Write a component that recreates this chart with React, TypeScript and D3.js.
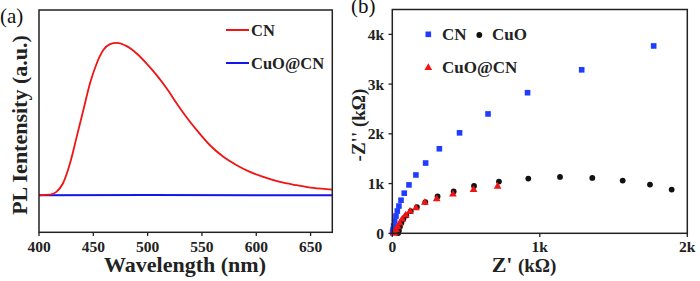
import React from "react";
import * as d3 from "d3";

// Panel (a): PL spectra
const plWavelength = [400, 410, 416, 422, 428.5, 434.7, 440.8, 446.9, 453.1, 459.2, 465.4, 471.5, 480.7, 489.9, 499.1, 508.3, 517.6, 526.8, 536, 545.2, 557.4, 569.7, 582, 594.2, 606.5, 621.8, 637.2, 652.5, 670];
const plCN = [0, 0.004, 0.022, 0.077, 0.208, 0.383, 0.558, 0.733, 0.864, 0.952, 0.991, 1.0, 0.978, 0.93, 0.864, 0.788, 0.7, 0.602, 0.51, 0.427, 0.328, 0.252, 0.197, 0.153, 0.12, 0.087, 0.066, 0.048, 0.037];
const plCuOCNWavelength = [400, 500, 600, 670];
const plCuOCN = [0, 0.001, 0, 0];
const plTicks = [400, 450, 500, 550, 600, 650];

// Panel (b): Nyquist plots (Ω)
const cnZre = [2, 5, 9, 16, 25, 34, 45, 59, 81, 113, 160, 226, 319, 456, 649, 917, 1284, 1772];
const cnZim = [20, 66, 147, 247, 347, 448, 548, 665, 807, 973, 1173, 1413, 1700, 2020, 2400, 2827, 3287, 3767];
const cuoZre = [40, 45, 52, 62, 75, 95, 125, 167, 224, 307, 416, 554, 723, 922, 1137, 1356, 1562, 1747, 1894];
const cuoZim = [5, 50, 130, 210, 290, 360, 445, 527, 627, 740, 840, 953, 1040, 1100, 1133, 1113, 1060, 980, 880];
const cuoCnZre = [12, 18, 25, 36, 50, 68, 91, 120, 160, 221, 301, 411, 551, 714];
const cuoCnZim = [5, 26, 80, 140, 213, 293, 374, 450, 520, 627, 700, 793, 887, 953];
const eisXTicks = [0, 1000, 2000];
const eisYTicks = [0, 1000, 2000, 3000, 4000];

const FONT = '"Liberation Serif", "Times New Roman", Times, serif';
const RED = "#f01414";
const BLUE = "#1414f0";
const SQ_BLUE = "#1f3cff";

const kfmt = (v: number) => (v === 0 ? "0" : `${v / 1000}k`);

export default function App() {
  const xa = d3.scaleLinear().domain([400, 670]).range([39, 332.3]);
  const ya = d3.scaleLinear().domain([-0.243, 1.215]).range([232.3, 10]);
  const lineA = d3
    .line<number>()
    .x((_, i) => xa(plWavelength[i]))
    .y((d) => ya(d))
    .curve(d3.curveMonotoneX);
  const lineA2 = d3
    .line<number>()
    .x((_, i) => xa(plCuOCNWavelength[i]))
    .y((d) => ya(d));

  const xb = d3.scaleLinear().domain([0, 2000]).range([392.3, 687.3]);
  const yb = d3.scaleLinear().domain([0, 4500]).range([233.3, 9.5]);
  const tri = d3.symbol().type(d3.symbolTriangle).size(26)();

  const txt = { fontFamily: FONT } as React.CSSProperties;

  return (
    <svg width={700} height={281} style={{ display: "block", position: "absolute", left: 0, top: 0, background: "#fff", fontFamily: FONT }}>
      <defs>
        <clipPath id="clipB">
          <rect x={351} y={0} width={349} height={281} />
        </clipPath>
        <clipPath id="plotA">
          <rect x={39} y={10} width={293.3} height={222.3} />
        </clipPath>
      </defs>
      <rect x={0} y={0} width={700} height={281} fill="#fff" />

      {/* ===== Panel (a) ===== */}
      <text x={0} y={23} fontSize={21} fill="#111" style={txt}>(a)</text>
      <g clipPath="url(#plotA)">
        <path d={lineA2(plCuOCN) || ""} fill="none" stroke={BLUE} strokeWidth={2} />
        <path d={lineA(plCN) || ""} fill="none" stroke={RED} strokeWidth={1.8} />
      </g>
      <rect x={39} y={10} width={293.3} height={222.3} fill="none" stroke="#222" strokeWidth={1.5} />
      {plTicks.map((t) => (
        <g key={t}>
          <line x1={xa(t)} x2={xa(t)} y1={232.3} y2={236} stroke="#222" strokeWidth={1.3} />
          <text x={xa(t)} y={252} textAnchor="middle" fontSize={15.5} fontWeight="bold" fill="#222" style={txt}>{t}</text>
        </g>
      ))}
      <text x={185} y={272} textAnchor="middle" fontSize={22} fontWeight="bold" fill="#222" style={txt}>Wavelength (nm)</text>
      <text transform="translate(27,125) rotate(-90)" textAnchor="middle" fontSize={22} fontWeight="bold" fill="#222" style={txt}>PL Ientensity (a.u.)</text>
      <line x1={226} x2={249} y1={30} y2={30} stroke={RED} strokeWidth={2} />
      <text x={251} y={35.5} fontSize={16.5} fontWeight="bold" fill="#222" style={txt}>CN</text>
      <line x1={226} x2={249} y1={63} y2={63} stroke={BLUE} strokeWidth={2} />
      <text x={251} y={68.5} fontSize={16.5} fontWeight="bold" fill="#222" style={txt}>CuO@CN</text>

      {/* ===== Panel (b) ===== */}
      <g clipPath="url(#clipB)">
        <text x={351} y={13} fontSize={21} fill="#111" style={txt}>(b)</text>
        <text transform="translate(364.5,125) rotate(-90)" textAnchor="middle" fontSize={19} fontWeight="bold" fill="#222" style={txt}>
          -Z'' (kΩ)
        </text>
      </g>
      {cnZre.map((x, i) => (
        <rect key={"cn" + i} x={xb(x) - 2.8} y={yb(cnZim[i]) - 2.8} width={5.6} height={5.6} fill={SQ_BLUE} />
      ))}
      {cuoZre.map((x, i) => (
        <circle key={"cuo" + i} cx={xb(x)} cy={yb(cuoZim[i])} r={2.9} fill="#111" />
      ))}
      {cuoCnZre.map((x, i) => (
        <path key={"cc" + i} d={tri || ""} transform={`translate(${xb(x)},${yb(cuoCnZim[i]) + 0.5})`} fill={RED} />
      ))}
      <rect x={392.3} y={9.5} width={295} height={223.8} fill="none" stroke="#222" strokeWidth={1.5} />
      {eisXTicks.map((t) => (
        <g key={"bx" + t}>
          <line x1={xb(t)} x2={xb(t)} y1={233.3} y2={237} stroke="#222" strokeWidth={1.3} />
          <text x={xb(t)} y={252} textAnchor="middle" fontSize={15.5} fontWeight="bold" fill="#222" style={txt}>{kfmt(t)}</text>
        </g>
      ))}
      {eisYTicks.map((t) => (
        <g key={"by" + t}>
          <line x1={388.5} x2={392.3} y1={yb(t)} y2={yb(t)} stroke="#222" strokeWidth={1.3} />
          <text x={384} y={yb(t) + 5.5} textAnchor="end" fontSize={15.5} fontWeight="bold" fill="#222" style={txt}>{kfmt(t)}</text>
        </g>
      ))}
      <text x={524} y={272} textAnchor="middle" fontWeight="bold" fill="#222" style={txt}>
        <tspan fontSize={22}>Z' </tspan>
        <tspan fontSize={19}>(kΩ)</tspan>
      </text>
      <rect x={428.3 - 2.8} y={34.3 - 2.8} width={5.6} height={5.6} fill={SQ_BLUE} />
      <text x={442} y={40} fontSize={17} fontWeight="bold" fill="#222" style={txt}>CN</text>
      <circle cx={479.3} cy={35} r={2.9} fill="#111" />
      <text x={492} y={40} fontSize={17} fontWeight="bold" fill="#222" style={txt}>CuO</text>
      <path d={tri || ""} transform="translate(428.3,67.7)" fill={RED} />
      <text x={442} y={72.5} fontSize={17} fontWeight="bold" fill="#222" style={txt}>CuO@CN</text>
    </svg>
  );
}
